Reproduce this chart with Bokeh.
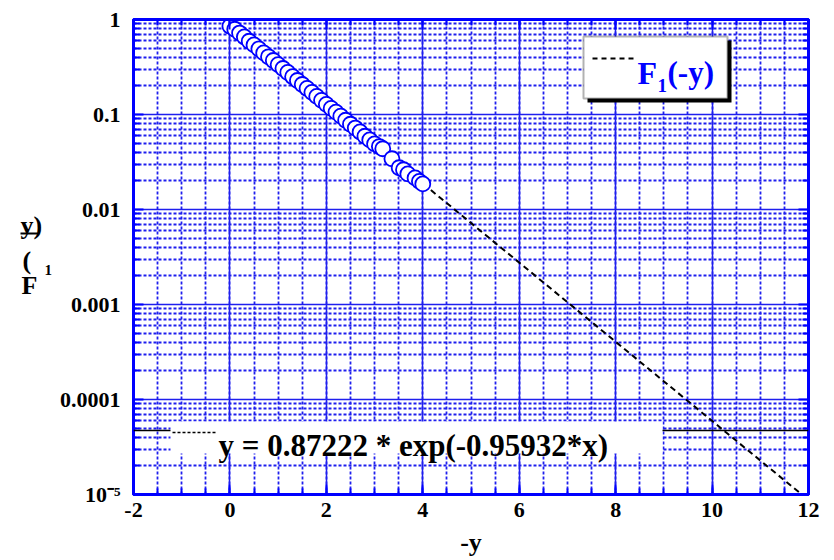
from bokeh.plotting import figure
from bokeh.layouts import row
from bokeh.core.properties import value
from bokeh.models import (LinearAxis, LogAxis, SingleIntervalTicker, FixedTicker,
                          CustomJSTickFormatter, BoxAnnotation, Label, Span, Arrow)
from bokeh.embed import file_html
from bokeh.resources import INLINE

# ---- data ----
pts_x = [0.0, 0.1, 0.2, 0.3, 0.4, 0.5, 0.6, 0.7, 0.8, 0.9,
         1.0, 1.1, 1.2, 1.3, 1.4, 1.5, 1.6, 1.7, 1.8, 1.9,
         2.0, 2.1, 2.2, 2.3, 2.4, 2.5, 2.6, 2.7, 2.8, 2.9,
         3.0, 3.1, 3.17, 3.36, 3.51, 3.6, 3.69, 3.84, 3.93, 4.0]
pts_y = [0.85, 0.79, 0.72, 0.655, 0.59, 0.54, 0.49, 0.445, 0.405, 0.37,
         0.335, 0.305, 0.277, 0.25, 0.228, 0.207, 0.188, 0.171, 0.155, 0.141,
         0.128, 0.116, 0.106, 0.096, 0.087, 0.079, 0.072, 0.0655, 0.059, 0.054,
         0.049, 0.046, 0.0436, 0.0342, 0.0275, 0.0262, 0.0237, 0.0215, 0.0198, 0.0186]
fit_x = [0.0, 11.86]
fit_y = [0.87222, 1.0e-5]
ref_level = 4.73e-5
y_ticks = [1e-5, 1e-4, 1e-3, 1e-2, 1e-1, 1.0]
y_tick_labels = ["10\u207b\u2075", "0.0001", "0.001", "0.01", "0.1", "1"]
legend_text = "(-y)"
equation_text = "y = 0.87222 * exp(-0.95932*x)"
x_label = "-y"
ylabel_parts = ["y)", "(", "F", "1"]

FONT = "Liberation Serif"
BLUE = "#0000ff"
GRID = "#1f1fee"

LW = 53  # width of the strip that carries the vertical title
SHIFT = 22  # measured vertical offset of the strip's frame
# frame geometry (pixels) used only to place annotations
L, R, T, B = 133, 808, 19, 494
def px2x(px):
    return -2 + (px - L) * 14.0 / (R - L)
def px2y(py):
    return 10 ** (-(py - T) * 5.0 / (B - T))

# ---- narrow strip with the (garbled) vertical axis title ----
s = figure(frame_width=LW, frame_height=560, x_range=(0, LW), y_range=(560, 0),
           x_axis_location=None, y_axis_location=None, title_location=None,
           output_backend="svg", toolbar_location=None,
           min_border_left=0, min_border_right=0, min_border_top=0,
           min_border_bottom=0)
s.grid.visible = False
s.outline_line_color = None
s.background_fill_color = "white"
s.border_fill_color = "white"
s.text(x=[20, 22, 21], y=[228 - SHIFT, 263 - SHIFT, 288 - SHIFT],
       text=ylabel_parts[:3],
       text_font=value(FONT), text_font_style="bold",
       text_font_size=value("26px"), text_color="black",
       text_baseline="alphabetic")
s.text(x=[44], y=[272 - SHIFT], text=ylabel_parts[3:], text_font=value(FONT),
       text_font_style="bold", text_font_size=value("15px"), text_color="black",
       text_baseline="alphabetic")
s.segment(x0=[20], y0=[236 - SHIFT], x1=[38], y1=[236 - SHIFT],
          line_color="black", line_width=2)

# ---- main chart ----
p = figure(width=834 - LW, height=560, x_range=(-2, 12), y_range=(1e-5, 1),
           y_axis_type="log", output_backend="svg", toolbar_location=None,
           min_border_left=L - LW, min_border_right=834 - R,
           min_border_top=T, min_border_bottom=560 - B)
p.background_fill_color = "white"
p.border_fill_color = "white"
p.outline_line_color = BLUE
p.outline_line_width = 3

minor_y = [k * 10.0 ** e for e in range(-5, 0) for k in range(2, 10)]
xt = SingleIntervalTicker(interval=2, num_minor_ticks=4)
yt = FixedTicker(ticks=y_ticks, minor_ticks=minor_y)

bottom_ax = p.below[0]
left_ax = p.left[0]
bottom_ax.ticker = xt
left_ax.ticker = yt
bottom_ax.formatter = CustomJSTickFormatter(code="return tick.toFixed(0);")
left_ax.formatter = CustomJSTickFormatter(
    args=dict(labels=y_tick_labels),
    code="const i = Math.round(Math.log10(tick)) + 5; return labels[i];")

blank = CustomJSTickFormatter(code="return '';")
top_ax = LinearAxis(ticker=xt, formatter=blank)
right_ax = LogAxis(ticker=yt, formatter=blank)
p.add_layout(top_ax, "above")
p.add_layout(right_ax, "right")

for ax in [bottom_ax, left_ax, top_ax, right_ax]:
    ax.axis_line_color = BLUE
    ax.axis_line_width = 3
    ax.major_tick_line_color = BLUE
    ax.minor_tick_line_color = BLUE
    ax.major_tick_line_width = 2
    ax.minor_tick_line_width = 2
    ax.major_tick_in = 10
    ax.major_tick_out = 0
    ax.minor_tick_in = 6
    ax.minor_tick_out = 0
    ax.major_label_text_font = FONT
    ax.major_label_text_font_style = "bold"
    ax.major_label_text_font_size = "22px"
    ax.major_label_text_color = "black"

for ax in [top_ax, right_ax]:
    ax.major_label_standoff = 0
    ax.major_label_text_font_size = "8px"

bottom_ax.major_label_standoff = 8
left_ax.major_label_standoff = 13
bottom_ax.axis_label = x_label
bottom_ax.axis_label_text_font = FONT
bottom_ax.axis_label_text_font_style = "bold"
bottom_ax.axis_label_text_font_size = "26px"
bottom_ax.axis_label_text_color = "black"
bottom_ax.axis_label_standoff = 8

for g in [p.xgrid[0], p.ygrid[0]]:
    g.grid_line_color = GRID
    g.grid_line_width = 1.5
    g.minor_grid_line_color = GRID
    g.minor_grid_line_width = 1.8
    g.minor_grid_line_dash = "3 2"

# fit line and data points
p.line(fit_x, fit_y, line_color="black", line_width=2, line_dash="6 4")
p.scatter(pts_x, pts_y, marker="circle", size=15, fill_color="white",
          line_color=BLUE, line_width=1.8)

# horizontal reference line and equation box
p.add_layout(Span(location=ref_level, dimension="width", line_color="black",
                  line_width=1.5))
p.add_layout(BoxAnnotation(left=px2x(170), right=px2x(662), top=px2y(421),
                           bottom=px2y(453), fill_color="white", fill_alpha=1,
                           line_color=None))
p.add_layout(Arrow(end=None, x_start=px2x(172), x_end=px2x(216),
                   y_start=px2y(432), y_end=px2y(432), line_color="black",
                   line_width=1.5, line_dash="3 2"))
p.add_layout(Label(x=px2x(218), y=px2y(445), text=equation_text,
                   text_font=FONT, text_font_style="bold", text_font_size="31px",
                   text_color="black", text_baseline="alphabetic"))

# legend box with shadow
p.add_layout(BoxAnnotation(left=px2x(587), right=px2x(731), top=px2y(40),
                           bottom=px2y(102), fill_color="black", fill_alpha=1,
                           line_color=None))
p.add_layout(BoxAnnotation(left=px2x(583), right=px2x(727), top=px2y(36),
                           bottom=px2y(98), fill_color="white", fill_alpha=1,
                           line_color="black", line_width=2))
p.add_layout(Arrow(end=None, x_start=px2x(592), x_end=px2x(634),
                   y_start=px2y(58), y_end=px2y(58), line_color="black",
                   line_width=2, line_dash="5 4"))
p.add_layout(Label(x=px2x(637), y=px2y(72), text="F", text_font=FONT,
                   text_font_style="bold", text_font_size="32px",
                   text_color=BLUE, text_baseline="alphabetic"))
p.add_layout(Label(x=px2x(657), y=px2y(85), text="1", text_font=FONT,
                   text_font_style="bold", text_font_size="19px",
                   text_color=BLUE, text_baseline="alphabetic"))
p.add_layout(Label(x=px2x(667), y=px2y(72), text=legend_text, text_font=FONT,
                   text_font_style="bold", text_font_size="31px",
                   text_color=BLUE, text_baseline="alphabetic"))

layout = row(s, p)
open("out.html", "w").write(file_html(layout, INLINE))
